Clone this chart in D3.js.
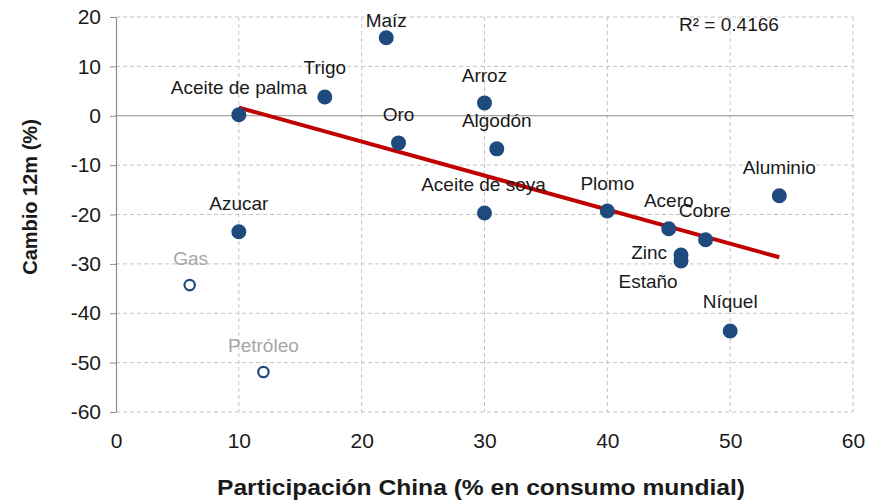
<!DOCTYPE html>
<html>
<head>
<meta charset="utf-8">
<script src="https://cdn.jsdelivr.net/npm/d3@7"></script>
<style>
  body { margin: 0; background: #fff; }
  text { font-family: "Liberation Sans", Arial, sans-serif; }
</style>
</head>
<body>
<div id="chart"></div>
<script>
// productos (rellenos, entran en la tendencia)
let names = ["Maíz", "Trigo", "Aceite de palma", "Arroz", "Oro", "Algodón", "Aceite de soya",
             "Azucar", "Plomo", "Acero", "Cobre", "Zinc", "Estaño", "Aluminio", "Níquel"];
let share = [22, 17, 10, 30, 23, 31, 30, 10, 40, 45, 48, 46, 46, 54, 50];
let change = [15.8, 3.8, 0.2, 2.6, -5.5, -6.7, -19.7, -23.5, -19.3, -22.9, -25.1, -28.2, -29.4, -16.2, -43.6];

// energía (huecos, fuera de la tendencia)
let energyNames = ["Gas", "Petróleo"];
let energyShare = [6, 12];
let energyChange = [-34.3, -51.9];

let xTicks = [0, 10, 20, 30, 40, 50, 60];
let yTicks = [20, 10, 0, -10, -20, -30, -40, -50, -60];
let r2Label = "R² = 0.4166";

// posición de cada etiqueta respecto al punto: [dx, dy, anchor]
let labelPos = {
    "Maíz": [0, -11, "middle"],
    "Trigo": [0, -23, "middle"],
    "Aceite de palma": [0, -21, "middle"],
    "Arroz": [0, -21, "middle"],
    "Oro": [0, -22, "middle"],
    "Algodón": [0, -22, "middle"],
    "Aceite de soya": [-1, -22, "middle"],
    "Azucar": [0, -22, "middle"],
    "Plomo": [0, -21, "middle"],
    "Acero": [0, -22, "middle"],
    "Cobre": [-1, -23, "middle"],
    "Zinc": [-14, 4, "end"],
    "Estaño": [-33, 27, "middle"],
    "Aluminio": [0, -22, "middle"],
    "Níquel": [0, -23, "middle"],
    "Gas": [1, -20, "middle"],
    "Petróleo": [0, -20, "middle"]
};

let data = names.map((n, i) => ({ name: n, x: share[i], y: change[i] }));
let energy = energyNames.map((n, i) => ({ name: n, x: energyShare[i], y: energyChange[i] }));

let margin = { top: 17, right: 28, bottom: 91, left: 116 },
    width = 881 - margin.left - margin.right,
    height = 503 - margin.top - margin.bottom;

let svg = d3.select("#chart")
    .append("svg")
    .attr("width", 881)
    .attr("height", 503)
    .append("g")
    .attr("transform", `translate(${margin.left},${margin.top})`);

let x = d3.scaleLinear().domain([0, 60]).range([0, width]);
let y = d3.scaleLinear().domain([-60, 20]).range([height, 0]);

// rejilla
svg.append("g")
    .selectAll("line")
    .data(yTicks.filter(d => d !== 0))
    .enter().append("line")
    .attr("x1", 0).attr("x2", width)
    .attr("y1", d => y(d)).attr("y2", d => y(d))
    .attr("stroke", "#c4c4c4")
    .attr("stroke-dasharray", "4,3");

svg.append("g")
    .selectAll("line")
    .data(xTicks.filter(d => d !== 0))
    .enter().append("line")
    .attr("x1", d => x(d)).attr("x2", d => x(d))
    .attr("y1", 0).attr("y2", height)
    .attr("stroke", "#c4c4c4")
    .attr("stroke-dasharray", "4,3");

// línea de cero
svg.append("line")
    .attr("x1", 0).attr("x2", width)
    .attr("y1", y(0)).attr("y2", y(0))
    .attr("stroke", "#8c8c8c")
    .attr("stroke-width", 1.2);

// eje y
let yAxis = svg.append("g")
    .call(d3.axisLeft(y).tickValues(yTicks).tickSize(6).tickPadding(9).tickSizeOuter(0)
        .tickFormat(d => String(d)));
yAxis.select(".domain").attr("stroke", "#8c8c8c").attr("stroke-width", 1.2);
yAxis.selectAll(".tick line").attr("stroke", "#8c8c8c");
yAxis.selectAll(".tick text")
    .style("font-size", "21px")
    .style("fill", "#1a1a1a");

// eje x (solo etiquetas)
let xAxis = svg.append("g")
    .attr("transform", `translate(0,${height})`)
    .call(d3.axisBottom(x).tickValues(xTicks).tickSize(0).tickPadding(21));
xAxis.select(".domain").remove();
xAxis.selectAll(".tick text")
    .style("font-size", "21px")
    .style("fill", "#1a1a1a");

// tendencia lineal (mínimos cuadrados sobre los productos)
let mx = d3.mean(data, d => d.x), my = d3.mean(data, d => d.y);
let slope = d3.sum(data, d => (d.x - mx) * (d.y - my)) / d3.sum(data, d => (d.x - mx) ** 2);
let icpt = my - slope * mx;
let [x0, x1] = d3.extent(data, d => d.x);

svg.append("line")
    .attr("x1", x(x0)).attr("y1", y(icpt + slope * x0))
    .attr("x2", x(x1)).attr("y2", y(icpt + slope * x1))
    .attr("stroke", "#c00000")
    .attr("stroke-width", 4);

// puntos
svg.selectAll("circle.prod")
    .data(data)
    .enter().append("circle")
    .attr("class", "prod")
    .attr("cx", d => x(d.x))
    .attr("cy", d => y(d.y))
    .attr("r", 7.5)
    .attr("fill", "#1f4a7e");

svg.selectAll("circle.energy")
    .data(energy)
    .enter().append("circle")
    .attr("class", "energy")
    .attr("cx", d => x(d.x))
    .attr("cy", d => y(d.y))
    .attr("r", 5.2)
    .attr("fill", "#fff")
    .attr("stroke", "#1f4a7e")
    .attr("stroke-width", 2.2);

// etiquetas
svg.selectAll("text.lbl")
    .data(data.concat(energy))
    .enter().append("text")
    .attr("class", "lbl")
    .attr("x", d => x(d.x) + labelPos[d.name][0])
    .attr("y", d => y(d.y) + labelPos[d.name][1])
    .attr("text-anchor", d => labelPos[d.name][2])
    .style("font-size", "19px")
    .style("fill", d => energyNames.includes(d.name) ? "#a6a6a6" : "#1a1a1a")
    .text(d => d.name);

svg.append("text")
    .attr("x", x(49.9))
    .attr("y", 14)
    .attr("text-anchor", "middle")
    .style("font-size", "19px")
    .style("fill", "#1a1a1a")
    .text(r2Label);

// títulos de ejes
svg.append("text")
    .attr("transform", `translate(${30 - margin.left},${197 - margin.top}) rotate(-90)`)
    .attr("text-anchor", "middle")
    .attr("dy", "0.35em")
    .style("font-size", "20px")
    .style("font-weight", "bold")
    .style("fill", "#1a1a1a")
    .text("Cambio 12m (%)");

svg.append("text")
    .attr("x", 481 - margin.left)
    .attr("y", 495 - margin.top)
    .attr("text-anchor", "middle")
    .attr("textLength", 528)
    .attr("lengthAdjust", "spacingAndGlyphs")
    .style("font-size", "22px")
    .style("font-weight", "bold")
    .style("fill", "#1a1a1a")
    .text("Participación China (% en consumo mundial)");
</script>
</body>
</html>
